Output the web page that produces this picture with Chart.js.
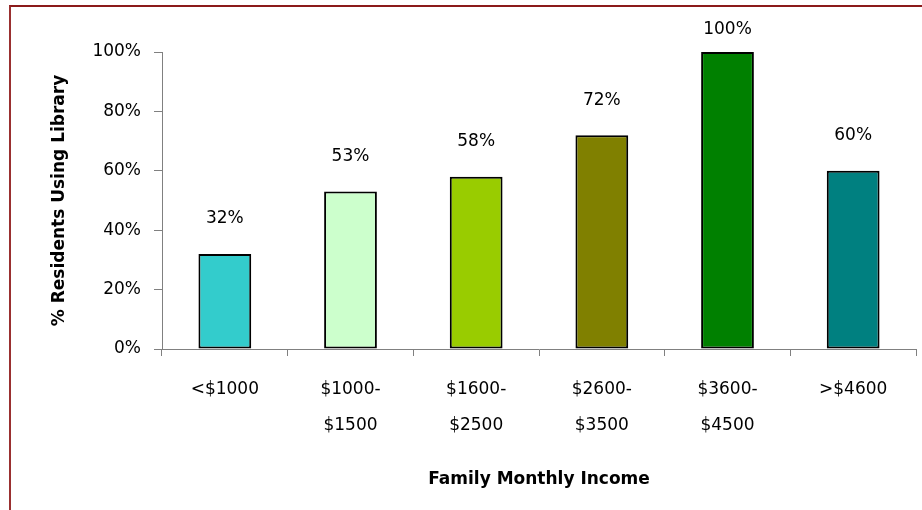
<!DOCTYPE html>
<html lang="en">
<head>
<meta charset="UTF-8">
<title>Library use by family income</title>
<script src="https://cdn.jsdelivr.net/npm/chart.js@4.4.1/dist/chart.umd.min.js"></script>
<style>
body { margin: 0; background: #fff; }
#wrap { position: relative; width: 922px; height: 510px; overflow: hidden; }
#frame {
    position: absolute; left: 9px; top: 5px; width: 1000px; height: 600px;
    border-left: 2px solid #9a3030; border-top: 2px solid #8b1a1a;
}
#myChart { position: absolute; left: 0; top: 0; }
</style>
</head>
<body>
<div id="wrap">
    <div id="frame"></div>
    <canvas id="myChart" width="922" height="510"></canvas>
</div>
<script>
const incomeGroups = [["<$1000"], ["$1000-", "$1500"], ["$1600-", "$2500"], ["$2600-", "$3500"], ["$3600-", "$4500"], [">$4600"]];
const usingLibrary = [32, 53, 58, 72, 100, 60];
const barColors = ["#33CCCC", "#CCFFCC", "#99CC00", "#808000", "#008000", "#008080"];

const FONT = "'DejaVu Sans', sans-serif";

// percentage labels above each bar
const valueLabels = {
    id: 'valueLabels',
    afterDatasetsDraw(chart) {
        const ctx = chart.ctx;
        const meta = chart.getDatasetMeta(0);
        ctx.save();
        ctx.font = "17px " + FONT;
        ctx.fillStyle = "#000";
        ctx.textAlign = "center";
        ctx.textBaseline = "middle";
        meta.data.forEach((bar, i) => {
            const y = Math.max(bar.y - 35, 30);
            ctx.fillText(usingLibrary[i] + "%", bar.x, y);
        });
        ctx.restore();
    }
};

new Chart(document.getElementById("myChart"), {
    type: 'bar',
    data: {
        labels: incomeGroups,
        datasets: [{
            data: usingLibrary,
            backgroundColor: barColors,
            borderColor: "#000",
            borderWidth: 2,
            borderSkipped: false,
            categoryPercentage: 1,
            barPercentage: 0.42
        }]
    },
    options: {
        responsive: false,
        animation: false,
        layout: { padding: { left: 0, right: 6, top: 52, bottom: 0 } },
        plugins: {
            legend: { display: false },
            tooltip: { enabled: false }
        },
        scales: {
            x: {
                offset: true,
                grid: { display: true, offset: true, drawOnChartArea: false, tickLength: 7, color: "#808080" },
                border: { color: "#808080", width: 1 },
                ticks: { color: "#000", font: { family: FONT, size: 17, lineHeight: 36 / 17 }, padding: 16, maxRotation: 0 },
                title: {
                    display: true, text: "Family Monthly Income", color: "#000",
                    font: { family: FONT, size: 17, weight: 'bold' }, padding: { top: 0, bottom: 20 }
                },
                afterFit(scale) { scale.height = 161; }
            },
            y: {
                min: 0, max: 100,
                ticks: { stepSize: 20, color: "#000", font: { family: FONT, size: 17 }, padding: 13, callback: v => v + "%" },
                grid: { drawOnChartArea: false, tickLength: 8, color: "#808080" },
                border: { color: "#808080", width: 1 },
                title: {
                    display: true, text: "% Residents Using Library", color: "#000",
                    font: { family: FONT, size: 17, weight: 'bold' }, padding: { top: 49, bottom: 0 }
                },
                afterFit(scale) { scale.width = 162; }
            }
        }
    },
    plugins: [valueLabels]
});
</script>
</body>
</html>
